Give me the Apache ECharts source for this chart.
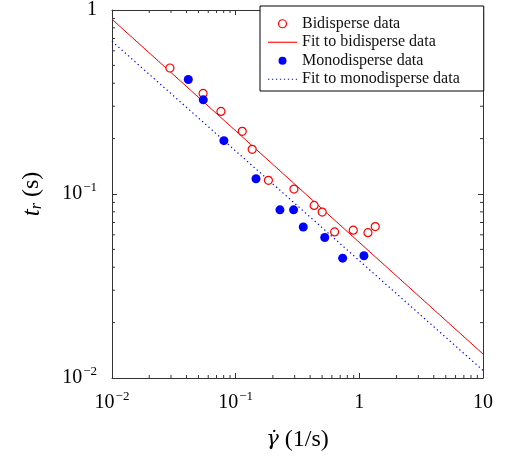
<!DOCTYPE html>
<html>
<head>
<meta charset="utf-8">
<script src="https://cdn.jsdelivr.net/npm/echarts@6/dist/echarts.min.js"></script>
<style>
  html, body { margin: 0; padding: 0; background: #fff; }
  #chart { width: 505px; height: 457px; }
</style>
</head>
<body>
<div id="chart"></div>
<script>
// (shear rate in 1/s, relaxation time in s)
const bidisperseX = [0.0294, 0.0545, 0.076, 0.113, 0.136, 0.184, 0.296, 0.431, 0.501, 0.631, 0.893, 1.174, 1.345];
const bidisperseY = [0.484, 0.352, 0.281, 0.219, 0.175, 0.1186, 0.1064, 0.0867, 0.0798, 0.0622, 0.0636, 0.0616, 0.0665];
const monodisperseX = [0.0414, 0.0547, 0.0803, 0.146, 0.228, 0.294, 0.352, 0.525, 0.733, 1.089];
const monodisperseY = [0.419, 0.325, 0.195, 0.121, 0.082, 0.082, 0.0662, 0.058, 0.0448, 0.0462];
const bidisperseFitX = [0.01, 10];
const bidisperseFitY = [0.89, 0.0135];
const monodisperseFitX = [0.01, 10];
const monodisperseFitY = [0.676, 0.011];

const xDecades = [0.01, 0.1, 1];
const yDecades = [0.01, 0.1];
const minorMultipliers = [2, 3, 4, 5, 6, 7, 8, 9];

const SERIF = '"Liberation Serif", "DejaVu Serif", serif';

function zip(xs, ys) {
  return xs.map((x, i) => [x, ys[i]]);
}

function powLabel(value) {
  if (Math.abs(value - 1) < 1e-9) return '{b|1}';
  if (Math.abs(value - 10) < 1e-9) return '{b|10}';
  const exp = Math.round(Math.log10(value));
  return '{b|10}{s|\u2212' + Math.abs(exp) + '}';
}

const labelRich = {
  b: { fontFamily: SERIF, fontSize: 20, color: '#000', lineHeight: 24 },
  s: { fontFamily: SERIF, fontSize: 13, color: '#000', lineHeight: 24, padding: [0, 0, 12, 1] }
};

// minor tick positions in data space
const xMinor = [];
xDecades.forEach(d => minorMultipliers.forEach(m => xMinor.push(d * m)));
const yMinor = [];
yDecades.forEach(d => minorMultipliers.forEach(m => yMinor.push(d * m)));

function minorTickRenderer(dir) {
  return function (params, api) {
    const v = api.value(0);
    const len = 3;
    const style = { stroke: '#333', lineWidth: 1 };
    if (dir === 'x') {
      const b = api.coord([v, 0.01]);
      const t = api.coord([v, 1]);
      return { type: 'group', children: [
        { type: 'line', shape: { x1: b[0], y1: b[1], x2: b[0], y2: b[1] - len }, style },
        { type: 'line', shape: { x1: t[0], y1: t[1], x2: t[0], y2: t[1] + len }, style }
      ] };
    }
    const l = api.coord([0.01, v]);
    const r = api.coord([10, v]);
    return { type: 'group', children: [
      { type: 'line', shape: { x1: l[0], y1: l[1], x2: l[0] + len, y2: l[1] }, style },
      { type: 'line', shape: { x1: r[0], y1: r[1], x2: r[0] - len, y2: r[1] }, style }
    ] };
  };
}

// legend icons for the fit lines: a thin bar and a row of dots
const solidIcon = 'path://M0,0H29V1.1H0Z';
let dottedIcon = 'path://';
for (let i = 0; i < 8; i++) {
  dottedIcon += 'M' + (i * 4) + ',0h1.2v1.2h-1.2Z';
}

const axisLineStyle = { color: '#333', width: 1 };

const chart = echarts.init(document.getElementById('chart'));

const option = {
  animation: false,
  backgroundColor: '#fff',
  grid: { left: 112, right: 22, top: 6, bottom: 79, containLabel: false },
  legend: {
    data: [
      { name: 'Bidisperse data', icon: 'circle', itemStyle: { color: '#fff', borderColor: '#ff0000', borderWidth: 1.2, opacity: 1 } },
      { name: 'Fit to bidisperse data', icon: solidIcon, itemStyle: { color: '#ff0000', borderWidth: 0 } },
      { name: 'Monodisperse data', icon: 'circle', itemStyle: { color: '#0000ff', opacity: 1 } },
      { name: 'Fit to monodisperse data', icon: dottedIcon, itemStyle: { color: '#0000ff', borderWidth: 0 } }
    ],
    orient: 'vertical',
    left: 260,
    top: 6,
    padding: [9, 24, 3, 8],
    itemGap: 1,
    itemWidth: 29,
    itemHeight: 8,
    borderColor: '#000',
    borderWidth: 1,
    borderRadius: 0,
    backgroundColor: '#fff',
    selectedMode: false,
    textStyle: { fontFamily: SERIF, fontSize: 16, color: '#111', lineHeight: 17.5 }
  },
  xAxis: [{
    type: 'log',
    logBase: 10,
    min: 0.01,
    max: 10,
    name: '{g|\u03b3\u0307}{n| (1/s)}',
    nameLocation: 'middle',
    nameGap: 50,
    nameTextStyle: {
      rich: {
        g: { fontFamily: '"DejaVu Serif", serif', fontSize: 21, fontStyle: 'italic', color: '#000' },
        n: { fontFamily: SERIF, fontSize: 24, color: '#000' }
      }
    },
    axisLine: { show: true, lineStyle: axisLineStyle },
    axisTick: { show: true, inside: true, length: 5, lineStyle: axisLineStyle },
    splitLine: { show: false },
    minorTick: { show: false },
    axisLabel: { margin: 13, formatter: powLabel, rich: labelRich }
  }, {
    type: 'log',
    logBase: 10,
    min: 0.01,
    max: 10,
    position: 'top',
    axisLine: { show: true, lineStyle: axisLineStyle },
    axisTick: { show: true, inside: true, length: 5, lineStyle: axisLineStyle },
    splitLine: { show: false },
    axisLabel: { show: false }
  }],
  yAxis: [{
    type: 'log',
    logBase: 10,
    min: 0.01,
    max: 1,
    name: '{t|t}{r|r}{n| (s)}',
    nameLocation: 'middle',
    nameRotate: 90,
    nameGap: 66,
    nameTextStyle: {
      rich: {
        t: { fontFamily: SERIF, fontSize: 25, fontStyle: 'italic', color: '#000', lineHeight: 28 },
        r: { fontFamily: SERIF, fontSize: 16, fontStyle: 'italic', color: '#000', lineHeight: 28, padding: [9, 0, 0, 0] },
        n: { fontFamily: SERIF, fontSize: 24, color: '#000', lineHeight: 28 }
      }
    },
    axisLine: { show: true, lineStyle: axisLineStyle },
    axisTick: { show: true, inside: true, length: 5, lineStyle: axisLineStyle },
    splitLine: { show: false },
    axisLabel: { margin: 15, formatter: powLabel, rich: labelRich }
  }, {
    type: 'log',
    logBase: 10,
    min: 0.01,
    max: 1,
    position: 'right',
    axisLine: { show: true, lineStyle: axisLineStyle },
    axisTick: { show: true, inside: true, length: 5, lineStyle: axisLineStyle },
    splitLine: { show: false },
    axisLabel: { show: false }
  }],
  series: [
    {
      type: 'custom',
      name: 'xMinor',
      silent: true,
      renderItem: minorTickRenderer('x'),
      data: xMinor.map(v => [v, 0.1]),
      z: 1
    },
    {
      type: 'custom',
      name: 'yMinor',
      silent: true,
      renderItem: minorTickRenderer('y'),
      data: yMinor.map(v => [v, v]),
      z: 1
    },
    {
      name: 'Fit to bidisperse data',
      type: 'line',
      data: zip(bidisperseFitX, bidisperseFitY),
      symbol: 'none',
      lineStyle: { color: '#ff0000', width: 1 },
      itemStyle: { color: '#ff0000' },
      z: 2
    },
    {
      name: 'Fit to monodisperse data',
      type: 'line',
      data: zip(monodisperseFitX, monodisperseFitY),
      symbol: 'none',
      lineStyle: { color: '#0000ff', width: 1.2, type: [1.3, 3] },
      itemStyle: { color: '#0000ff' },
      z: 2
    },
    {
      name: 'Bidisperse data',
      type: 'scatter',
      data: zip(bidisperseX, bidisperseY),
      symbol: 'circle',
      symbolSize: 8,
      itemStyle: { color: '#fff', borderColor: '#ff0000', borderWidth: 1.2, opacity: 1 },
      z: 3
    },
    {
      name: 'Monodisperse data',
      type: 'scatter',
      data: zip(monodisperseX, monodisperseY),
      symbol: 'circle',
      symbolSize: 9,
      itemStyle: { color: '#0000ff', opacity: 1 },
      z: 4
    }
  ]
};

chart.setOption(option);
</script>
</body>
</html>
